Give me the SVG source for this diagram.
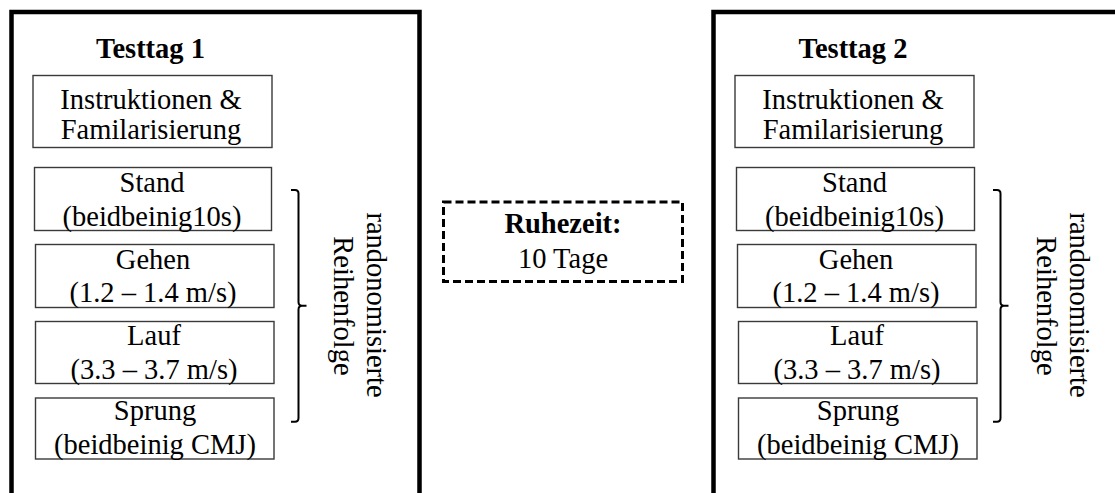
<svg xmlns="http://www.w3.org/2000/svg" width="1115" height="493" viewBox="0 0 1115 493">
<style>
  .frame{fill:none;stroke:#000;stroke-width:4.5}
  .box{fill:#fff;stroke:#3a3a3a;stroke-width:1.4}
  .dash{fill:#fff;stroke:#000;stroke-width:3;stroke-dasharray:8 4}
  .brace{fill:none;stroke:#000;stroke-width:2}
  text{font-family:"Liberation Serif","Times New Roman",serif;font-size:28.5px;fill:#000;text-anchor:middle}
  .b{font-weight:bold}
</style>
<rect x="0" y="0" width="1115" height="493" fill="#fff"/>
<g id="day1">
  <g id="frame1"><path class="frame" d="M11.5,493 V12 H419.5 V493"/></g>
  <g id="title1"><text class="b" x="150.5" y="58">Testtag 1</text></g>
  <g id="instr1"><rect class="box" x="33" y="75.5" width="239" height="72"/>
    <text x="151" y="109">Instruktionen &amp;</text><text x="151" y="138.5">Familarisierung</text></g>
  <g id="stand1"><rect class="box" x="34.5" y="167.5" width="237" height="63"/>
    <text x="152" y="192">Stand</text><text x="152" y="226">(beidbeinig10s)</text></g>
  <g id="gehen1"><rect class="box" x="35.5" y="244.5" width="238.5" height="63"/>
    <text x="153" y="268.5">Gehen</text><text x="153" y="302">(1.2 – 1.4 m/s)</text></g>
  <g id="lauf1"><rect class="box" x="35.5" y="321.5" width="238.5" height="62"/>
    <text x="154" y="345">Lauf</text><text x="154" y="378.5">(3.3 – 3.7 m/s)</text></g>
  <g id="sprung1"><rect class="box" x="35.5" y="398" width="238.5" height="61"/>
    <text x="155" y="420">Sprung</text><text x="155" y="453.5">(beidbeinig CMJ)</text></g>
  <g id="brace1"><path class="brace" d="M291,190 H295 Q298.5,190 298.5,193.5 V302 Q298.5,305.7 302,305.7 H306.5 M302,305.7 Q298.5,305.7 298.5,309.5 V418 Q298.5,421.7 295,421.7 H291"/></g>
  <g id="label1"><text transform="translate(367,305) rotate(90)">randonomisierte</text>
    <text transform="translate(334,306) rotate(90)">Reihenfolge</text></g>
</g>
<g id="rest">
  <rect class="dash" x="443.5" y="202" width="239" height="79.5"/>
  <text class="b" x="563" y="233">Ruhezeit:</text>
  <text x="563" y="268">10 Tage</text>
</g>
<g id="day2">
  <g id="frame2"><path class="frame" d="M713.5,493 V12 H1117"/></g>
  <g id="title2"><text class="b" x="853" y="58">Testtag 2</text></g>
  <g id="instr2"><rect class="box" x="735" y="75.5" width="239" height="72"/>
    <text x="853" y="109">Instruktionen &amp;</text><text x="853" y="138.5">Familarisierung</text></g>
  <g id="stand2"><rect class="box" x="736.5" y="167.5" width="238" height="63"/>
    <text x="854.5" y="192">Stand</text><text x="854.5" y="226">(beidbeinig10s)</text></g>
  <g id="gehen2"><rect class="box" x="737.5" y="244.5" width="238.5" height="63"/>
    <text x="856" y="268.5">Gehen</text><text x="856" y="302">(1.2 – 1.4 m/s)</text></g>
  <g id="lauf2"><rect class="box" x="738.5" y="321.5" width="238.5" height="62"/>
    <text x="857" y="345">Lauf</text><text x="857" y="378.5">(3.3 – 3.7 m/s)</text></g>
  <g id="sprung2"><rect class="box" x="738.5" y="398" width="238.5" height="61"/>
    <text x="858" y="420">Sprung</text><text x="858" y="453.5">(beidbeinig CMJ)</text></g>
  <g id="brace2"><path class="brace" d="M993,190 H997 Q1000.5,190 1000.5,193.5 V302 Q1000.5,305.7 1004,305.7 H1008.5 M1004,305.7 Q1000.5,305.7 1000.5,309.5 V418 Q1000.5,421.7 997,421.7 H993"/></g>
  <g id="label2"><text transform="translate(1070,305) rotate(90)">randonomisierte</text>
    <text transform="translate(1037,306) rotate(90)">Reihenfolge</text></g>
</g>
</svg>
